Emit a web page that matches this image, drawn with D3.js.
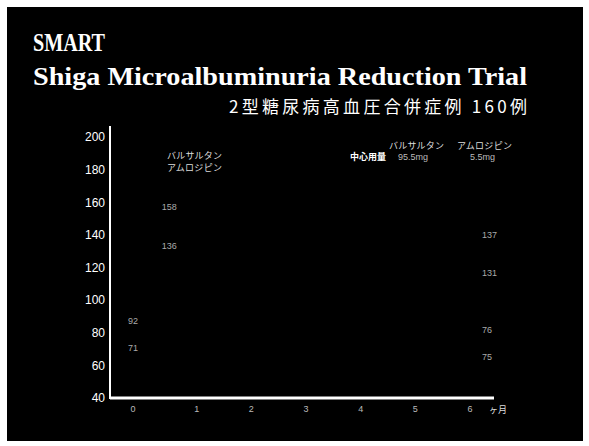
<!DOCTYPE html>
<html>
<head>
<meta charset="utf-8">
<script src="https://cdn.jsdelivr.net/npm/d3@7"></script>
<style>
  body { margin: 0; background: #ffffff; }
  svg { display: block; }
</style>
</head>
<body>
<svg></svg>
<script>
var months = [0, 1, 2, 3, 4, 5, 6];
var yTicks = [40, 60, 80, 100, 120, 140, 160, 180, 200];

// value labels: month, value and printed text
var labelMonths = [0.5, 0.5, 0, 0, 6, 6, 6, 6];
var labelValues = [157, 133, 87, 71, 140, 117, 82, 65];
var labelTexts = ["158", "136", "92", "71", "137", "131", "76", "75"];
var labelAnchor = ["middle", "middle", "end", "end", "start", "start", "start", "start"];

var drugs = ["バルサルタン", "アムロジピン"];
var doseHeader = "中心用量";
var doses = ["95.5mg", "5.5mg"];

var svgWidth = 589, svgHeight = 446;

var svg = d3.select("svg")
    .attr("width", svgWidth)
    .attr("height", svgHeight);

// black slide area
svg.append("rect")
    .attr("x", 7).attr("y", 7)
    .attr("width", 576).attr("height", 434)
    .attr("fill", "#000");

// titles
svg.append("text")
    .attr("x", 33).attr("y", 51)
    .attr("font-family", "Liberation Serif, Times New Roman, serif")
    .attr("font-weight", "bold")
    .attr("font-size", "26px")
    .attr("textLength", 72)
    .attr("lengthAdjust", "spacingAndGlyphs")
    .attr("fill", "#fff")
    .text("SMART");

svg.append("text")
    .attr("x", 33).attr("y", 85)
    .attr("font-family", "Liberation Serif, Times New Roman, serif")
    .attr("font-weight", "bold")
    .attr("font-size", "26px")
    .attr("textLength", 494)
    .attr("lengthAdjust", "spacingAndGlyphs")
    .attr("fill", "#fff")
    .text("Shiga Microalbuminuria Reduction Trial");

svg.append("text")
    .attr("x", 229).attr("y", 113)
    .attr("font-family", "Noto Sans CJK JP, sans-serif")
    .attr("font-size", "17px")
    .attr("textLength", 298)
    .attr("fill", "#fff")
    .text("2型糖尿病高血圧合併症例 160例");

// scales
var x = d3.scaleLinear().domain([0, 6]).range([142, 470]);
var y = d3.scaleLinear().domain([40, 200]).range([398, 137]);

// y axis
svg.append("line")
    .attr("x1", 110).attr("x2", 110)
    .attr("y1", 126).attr("y2", 399)
    .attr("stroke", "#fff").attr("stroke-width", 2);

svg.selectAll(".ytick")
    .data(yTicks)
    .enter()
    .append("text")
    .attr("class", "ytick")
    .attr("x", 105)
    .attr("y", function(d){ return y(d); })
    .attr("dy", "0.36em")
    .attr("text-anchor", "end")
    .attr("font-family", "Liberation Sans, Arial, sans-serif")
    .attr("font-size", "12px")
    .attr("fill", "#fff")
    .text(function(d){ return d; });

// x axis
svg.append("line")
    .attr("x1", 110).attr("x2", 494)
    .attr("y1", 398).attr("y2", 398)
    .attr("stroke", "#fff").attr("stroke-width", 3);

svg.selectAll(".xtick")
    .data(months)
    .enter()
    .append("text")
    .attr("class", "xtick")
    .attr("x", function(d){ return d === 0 ? x(d) - 9 : x(d); })
    .attr("y", 412)
    .attr("text-anchor", "middle")
    .attr("font-family", "Liberation Sans, Arial, sans-serif")
    .attr("font-size", "9px")
    .attr("fill", "#bbb")
    .text(function(d){ return d; });

svg.append("text")
    .attr("x", x(6) + 19).attr("y", 413)
    .attr("font-family", "Noto Sans CJK JP, sans-serif")
    .attr("font-size", "9px")
    .attr("fill", "#ddd")
    .text("ヶ月");

// legend on the left
svg.selectAll(".legend")
    .data(drugs)
    .enter()
    .append("text")
    .attr("class", "legend")
    .attr("x", 167)
    .attr("y", function(d, i){ return 159 + i * 12; })
    .attr("font-family", "Noto Sans CJK JP, sans-serif")
    .attr("font-size", "9px")
    .attr("textLength", 55)
    .attr("fill", "#ddd")
    .text(function(d){ return d; });

// dose box upper right
svg.selectAll(".drughead")
    .data(drugs)
    .enter()
    .append("text")
    .attr("class", "drughead")
    .attr("x", function(d, i){ return 389 + i * 68; })
    .attr("y", 149)
    .attr("font-family", "Noto Sans CJK JP, sans-serif")
    .attr("font-size", "9px")
    .attr("textLength", 55)
    .attr("fill", "#ddd")
    .text(function(d){ return d; });

svg.append("text")
    .attr("x", 350).attr("y", 160)
    .attr("font-family", "Noto Sans CJK JP, sans-serif")
    .attr("font-size", "9px")
    .attr("font-weight", "bold")
    .attr("fill", "#fff")
    .text(doseHeader);

svg.selectAll(".dose")
    .data(doses)
    .enter()
    .append("text")
    .attr("class", "dose")
    .attr("x", function(d, i){ return i === 0 ? 398 : 470; })
    .attr("y", 160)
    .attr("font-family", "Liberation Sans, Arial, sans-serif")
    .attr("font-size", "9px")
    .attr("fill", "#bbb")
    .text(function(d){ return d; });

// value labels
svg.selectAll(".vlabel")
    .data(labelTexts)
    .enter()
    .append("text")
    .attr("class", "vlabel")
    .attr("x", function(d, i){
        var dx = labelAnchor[i] === "end" ? -4 : (labelAnchor[i] === "start" ? 12 : 0);
        return x(labelMonths[i]) + dx;
    })
    .attr("y", function(d, i){ return y(labelValues[i]); })
    .attr("dy", "0.35em")
    .attr("text-anchor", function(d, i){ return labelAnchor[i]; })
    .attr("font-family", "Liberation Sans, Arial, sans-serif")
    .attr("font-size", "9px")
    .attr("fill", "#aaa")
    .text(function(d){ return d; });
</script>
</body>
</html>
